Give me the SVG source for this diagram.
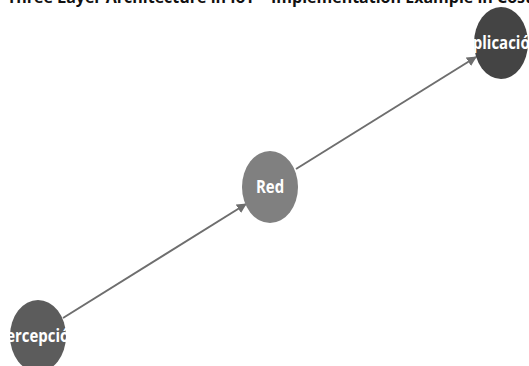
<svg xmlns="http://www.w3.org/2000/svg" width="529" height="366" viewBox="0 0 529 366">
<style>
.lbl{font-family:"Open Sans","Noto Sans",sans-serif;font-weight:bold;font-size:17px;fill:#ffffff;text-anchor:middle}
.edge{stroke:#6e6e6e;stroke-width:2;fill:none}
.title{font-family:"Open Sans","Noto Sans",sans-serif;font-weight:bold;font-size:16px;fill:#111}
</style>
<defs>
<marker id="arr" viewBox="0 0 10 10" refX="9" refY="5" markerWidth="5" markerHeight="5" orient="auto" markerUnits="strokeWidth">
<path d="M0,0 L10,5 L0,10 z" fill="#6e6e6e"/>
</marker>
</defs>
<rect width="529" height="366" fill="#ffffff"/>
<text class="title" x="7" y="3">Three Layer Architecture in IoT – Implementation Example in Costa Rica</text>
<g id="connectors">
<line class="edge" x1="63" y1="318" x2="246" y2="204" marker-end="url(#arr)"/>
<line class="edge" x1="296" y1="169" x2="476" y2="57" marker-end="url(#arr)"/>
</g>
<g id="node-aplicacion">
<ellipse cx="501" cy="43" rx="27" ry="36" fill="#444444"/>
<text class="lbl" transform="translate(501,49) scale(0.88,1)">Aplicación</text>
</g>
<g id="node-red">
<ellipse cx="270" cy="187" rx="28" ry="36" fill="#808080"/>
<text class="lbl" transform="translate(270,193) scale(0.88,1)">Red</text>
</g>
<g id="node-percepcion">
<ellipse cx="38" cy="336" rx="28" ry="36" fill="#5c5c5c"/>
<text class="lbl" transform="translate(38,342) scale(0.88,1)">Percepción</text>
</g>
</svg>
